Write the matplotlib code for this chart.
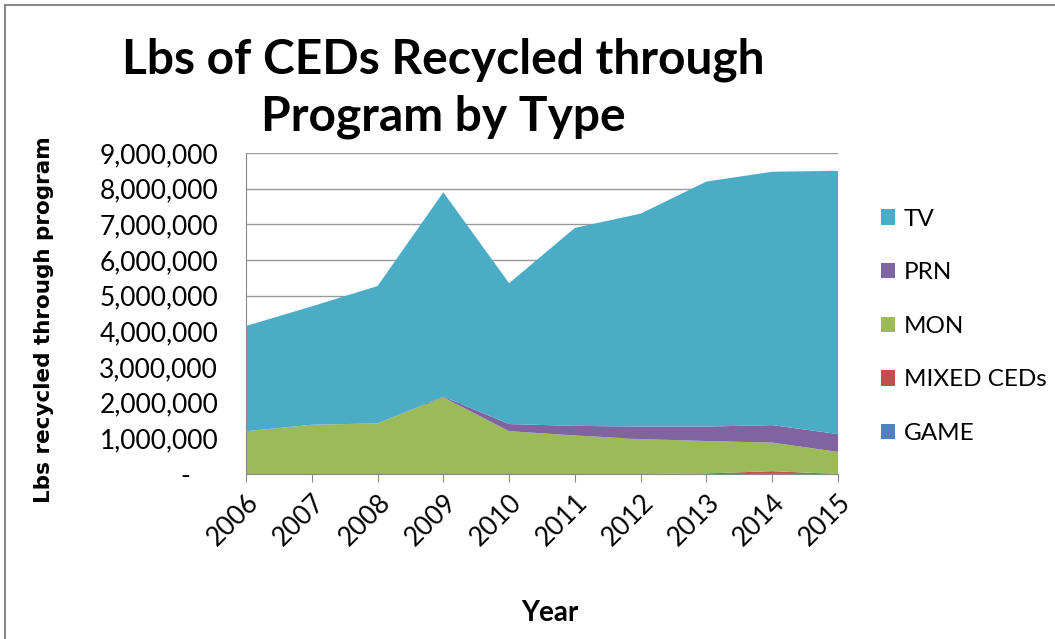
import numpy as np
import matplotlib.pyplot as plt
from matplotlib.ticker import FuncFormatter

plt.rcParams['font.family'] = ['Lato', 'DejaVu Sans']

years = [2006, 2007, 2008, 2009, 2010, 2011, 2012, 2013, 2014, 2015]
game = [0, 0, 0, 0, 0, 0, 0, 0, 5000, 0]
mixed = [0, 0, 0, 0, 0, 0, 0, 15000, 75000, 0]
mon = [1200000, 1380000, 1420000, 2150000, 1200000, 1080000, 980000, 910000, 800000, 620000]
prn = [0, 0, 0, 20000, 200000, 270000, 350000, 405000, 490000, 500000]
tv = [2950000, 3320000, 3850000, 5730000, 3950000, 5550000, 5970000, 6870000, 7105000, 7380000]

labels = ['GAME', 'MIXED CEDs', 'MON', 'PRN', 'TV']
colors = ['#4F81BD', '#C0504D', '#9BBB59', '#8064A2', '#4BACC6']

fig = plt.figure(figsize=(10.55, 6.39), dpi=100)
ax = fig.add_axes([246 / 1055, 1 - 474 / 639, (838 - 246) / 1055, (474 - 153) / 639])

ax.stackplot(years, game, mixed, mon, prn, tv, colors=colors, labels=labels, linewidth=0)

ax.set_xlim(2006, 2015)
ax.set_ylim(0, 9000000)
ax.set_yticks(np.arange(0, 9000001, 1000000))
ax.yaxis.set_major_formatter(FuncFormatter(lambda v, p: '-    ' if v == 0 else f'{int(v):,}'))
ax.set_xticks(years)
ax.set_xticklabels([str(y) for y in years], rotation=45, ha='right', rotation_mode='anchor', fontsize=19)
ax.tick_params(axis='y', labelsize=19, length=0, pad=20)
ax.tick_params(axis='x', length=6, color='#888888', pad=5)
ax.grid(axis='y', color='#999999', linewidth=1)
ax.set_axisbelow(True)
for side in ['top', 'right']:
    ax.spines[side].set_visible(False)
for side in ['left', 'bottom']:
    ax.spines[side].set_color('#888888')

ax.set_ylabel('Lbs recycled through program', fontsize=15.5, fontweight='bold', family='DejaVu Sans')
ax.set_xlabel('Year', fontsize=20, fontweight='bold')
ax.yaxis.set_label_coords(-192 / 592, 0.48)
ax.xaxis.set_label_coords((550 - 246) / 592, -(600 - 474) / 321)

fig.text(443 / 1055, 1 - 88 / 639, 'Lbs of CEDs Recycled through\nProgram by Type', ha='center', va='center',
         fontsize=34.5, fontweight='bold', linespacing=1.34)

handles, lbls = ax.get_legend_handles_labels()
fig.legend(handles[::-1], lbls[::-1], loc='upper left', bbox_to_anchor=(871 / 1055, 1 - 199 / 639),
           frameon=False, fontsize=17.5, handlelength=0.6, handleheight=0.6, handletextpad=0.35,
           labelspacing=1.34, borderaxespad=0)

# outer chart border
fig.add_artist(plt.Line2D([5 / 1055, 5 / 1055], [0, 1 - 5 / 639], transform=fig.transFigure, color='#888888', lw=1.5))
fig.add_artist(plt.Line2D([5 / 1055, 1], [1 - 5 / 639, 1 - 5 / 639], transform=fig.transFigure, color='#888888', lw=1.5))

fig.savefig('out.png', dpi=100)
